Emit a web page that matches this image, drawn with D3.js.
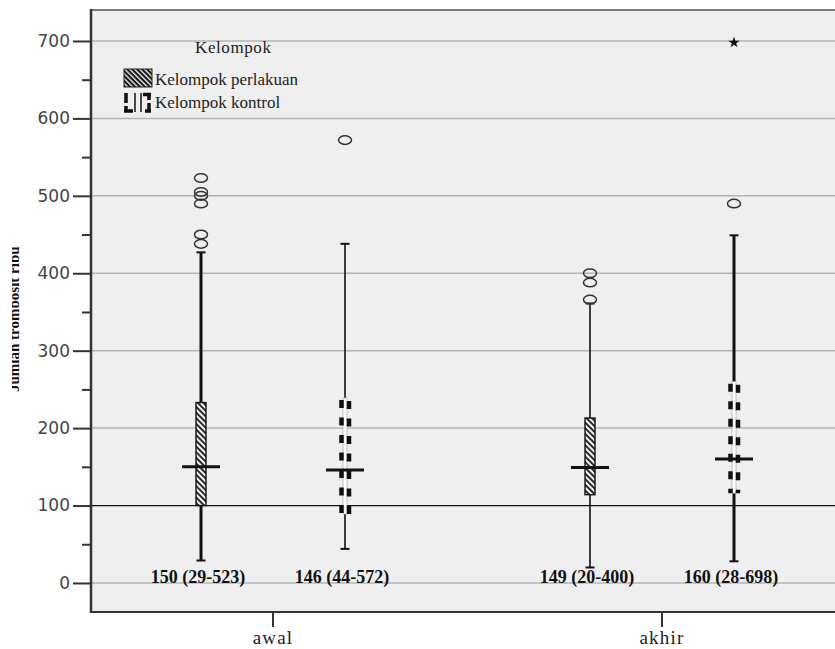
<!DOCTYPE html>
<html>
<head>
<meta charset="utf-8">
<script src="https://cdn.jsdelivr.net/npm/d3@7"></script>
<style>
  body { margin: 0; background: #fff; }
  svg { display: block; }
</style>
</head>
<body>
<div id="chart"></div>
<script>
// data
const categories = ["awal", "akhir"];
const groups = ["Kelompok perlakuan", "Kelompok kontrol"];
const yTicks = [0, 100, 200, 300, 400, 500, 600, 700];
const yMinorTicks = [50, 150, 250, 350, 450, 550, 650];

const boxCategory = ["awal", "awal", "akhir", "akhir"];
const boxGroup = ["Kelompok perlakuan", "Kelompok kontrol", "Kelompok perlakuan", "Kelompok kontrol"];
const whiskerLow = [29, 44, 20, 28];
const q1 = [100, 89, 114, 116];
const median = [150, 146, 149, 160];
const q3 = [233, 239, 213, 260];
const whiskerHigh = [427, 438, 361, 449];
const outliers = [[523, 505, 500, 490, 450, 438], [572], [400, 388, 366], [490]];
const extremes = [[], [], [], [698]];
const summaryLabels = ["150 (29-523)", "146 (44-572)", "149 (20-400)", "160 (28-698)"];
const referenceValue = 100;

const W = 835, H = 649;
const plotL = 91, plotT = 10, plotB = 612, plotR = 845;

const svg = d3.select("#chart").append("svg")
    .attr("width", W)
    .attr("height", H);

const defs = svg.append("defs");
const hatch = defs.append("pattern")
    .attr("id", "hatch")
    .attr("patternUnits", "userSpaceOnUse")
    .attr("width", 4)
    .attr("height", 4)
    .attr("patternTransform", "rotate(45)");
hatch.append("rect").attr("width", 4).attr("height", 4).attr("fill", "#f4f4f4");
hatch.append("rect").attr("width", 4).attr("height", 2).attr("fill", "#2a2a2a");

const hatchDark = defs.append("pattern")
    .attr("id", "hatchDark")
    .attr("patternUnits", "userSpaceOnUse")
    .attr("width", 3.5)
    .attr("height", 3.5)
    .attr("patternTransform", "rotate(45)");
hatchDark.append("rect").attr("width", 3.5).attr("height", 3.5).attr("fill", "#dcdcdc");
hatchDark.append("rect").attr("width", 3.5).attr("height", 2).attr("fill", "#111");

defs.append("clipPath").attr("id", "ylabClip")
    .append("rect").attr("x", 12).attr("y", 0).attr("width", 40).attr("height", H);

const y = d3.scaleLinear().domain([-37.5, 740]).range([plotB, plotT]);
const x = d3.scaleBand().domain(categories).range([78.5, 856.5]);
const xSub = d3.scalePoint().domain(groups).range([-72, 72]);
const cx = i => x(boxCategory[i]) + x.bandwidth() / 2 + xSub(boxGroup[i]);

// plot background
svg.append("rect")
    .attr("x", plotL).attr("y", plotT)
    .attr("width", plotR - plotL).attr("height", plotB - plotT)
    .attr("fill", "#efefef");

// gridlines
svg.append("g").selectAll("line")
    .data(yTicks.filter(d => d !== referenceValue))
    .join("line")
    .attr("x1", plotL).attr("x2", plotR)
    .attr("y1", d => y(d)).attr("y2", d => y(d))
    .attr("stroke", "#b4b4b4")
    .attr("stroke-width", 1.5);

// reference line
svg.append("line")
    .attr("x1", plotL).attr("x2", plotR)
    .attr("y1", y(referenceValue)).attr("y2", y(referenceValue))
    .attr("stroke", "#111")
    .attr("stroke-width", 1.2);

// frame
svg.append("line").attr("x1", plotL).attr("x2", plotR).attr("y1", plotT).attr("y2", plotT)
    .attr("stroke", "#7a7a7a").attr("stroke-width", 2);
svg.append("line").attr("x1", plotL).attr("x2", plotR).attr("y1", plotB).attr("y2", plotB)
    .attr("stroke", "#333").attr("stroke-width", 2);

// y axis
const yAxis = d3.axisLeft(y).tickValues(yTicks).tickSize(18).tickPadding(3).tickSizeOuter(0);
const gy = svg.append("g").attr("transform", `translate(${plotL},0)`).call(yAxis);
gy.select(".domain").remove();
gy.selectAll(".tick line").attr("stroke", "#333").attr("stroke-width", 2);
gy.selectAll(".tick text")
    .attr("font-family", "DejaVu Sans, sans-serif")
    .attr("font-size", 17)
    .attr("fill", "#444");
const yMinor = d3.axisLeft(y).tickValues(yMinorTicks).tickSize(9).tickFormat("");
const gym = svg.append("g").attr("transform", `translate(${plotL},0)`).call(yMinor);
gym.select(".domain").remove();
gym.selectAll(".tick line").attr("stroke", "#333").attr("stroke-width", 2);
svg.append("line").attr("x1", plotL).attr("x2", plotL).attr("y1", plotT - 1).attr("y2", plotB + 1)
    .attr("stroke", "#333").attr("stroke-width", 2.5);

// x axis
const xAxis = d3.axisBottom(x).tickSize(15).tickPadding(4);
const gx = svg.append("g").attr("transform", `translate(0,${plotB})`).call(xAxis);
gx.select(".domain").remove();
gx.selectAll(".tick line").attr("stroke", "#333").attr("stroke-width", 2);
gx.selectAll(".tick text")
    .attr("font-family", "Liberation Serif, serif")
    .attr("font-size", 19)
    .attr("letter-spacing", 1.2)
    .attr("fill", "#222");

// y axis title (clipped at the left edge as in the source)
svg.append("g")
    .attr("clip-path", "url(#ylabClip)")
    .append("text")
    .attr("transform", "translate(19,392) rotate(-90)")
    .attr("font-family", "Liberation Serif, serif")
    .attr("font-weight", "bold")
    .attr("font-size", 15)
    .attr("fill", "#111")
    .text("Jumlah trombosit ribu");

// boxes
const idx = d3.range(boxCategory.length);
const thickWhisker = { "awal|Kelompok perlakuan": 3, "akhir|Kelompok kontrol": 3 };
const boxes = svg.append("g");

idx.forEach(i => {
    const c = cx(i);
    const sw = thickWhisker[boxCategory[i] + "|" + boxGroup[i]] || 1.6;
    const g = boxes.append("g");
    // whiskers
    g.append("line").attr("x1", c).attr("x2", c).attr("y1", y(q3[i])).attr("y2", y(whiskerHigh[i]))
        .attr("stroke", "#111").attr("stroke-width", sw);
    g.append("line").attr("x1", c).attr("x2", c).attr("y1", y(q1[i])).attr("y2", y(whiskerLow[i]))
        .attr("stroke", "#111").attr("stroke-width", sw);
    [whiskerHigh[i], whiskerLow[i]].forEach(v => {
        g.append("line").attr("x1", c - 4.5).attr("x2", c + 4.5).attr("y1", y(v)).attr("y2", y(v))
            .attr("stroke", "#111").attr("stroke-width", 2);
    });
    if (boxGroup[i] === groups[0]) {
        g.append("rect")
            .attr("x", c - 5).attr("y", y(q3[i]))
            .attr("width", 10).attr("height", y(q1[i]) - y(q3[i]))
            .attr("fill", "url(#hatch)")
            .attr("stroke", "#111").attr("stroke-width", 1.4);
    } else {
        g.append("rect")
            .attr("x", c - 2).attr("y", y(q3[i]))
            .attr("width", 4).attr("height", y(q1[i]) - y(q3[i]))
            .attr("fill", "#fff")
            .attr("stroke", "#999").attr("stroke-width", 0.6);
        g.append("line").attr("x1", c - 3.5).attr("x2", c - 3.5)
            .attr("y1", y(q3[i]) + 2).attr("y2", y(q1[i]))
            .attr("stroke", "#111").attr("stroke-width", 4.5).attr("stroke-dasharray", "8,9.5");
        g.append("line").attr("x1", c + 4).attr("x2", c + 4)
            .attr("y1", y(q3[i])).attr("y2", y(q1[i]))
            .attr("stroke", "#111").attr("stroke-width", 4.5).attr("stroke-dasharray", "8,9.5")
            .attr("stroke-dashoffset", -3);
    }
    // median
    g.append("line").attr("x1", c - 19).attr("x2", c + 19).attr("y1", y(median[i])).attr("y2", y(median[i]))
        .attr("stroke", "#111").attr("stroke-width", 3);
    // outliers
    g.selectAll("ellipse").data(outliers[i]).join("ellipse")
        .attr("cx", c).attr("cy", d => y(d))
        .attr("rx", 6.5).attr("ry", 4.3)
        .attr("fill", "none").attr("stroke", "#333").attr("stroke-width", 1.5);
    g.selectAll("path.star").data(extremes[i]).join("path")
        .attr("class", "star")
        .attr("transform", d => `translate(${c},${y(d)})`)
        .attr("d", d3.symbol(d3.symbolStar, 40)())
        .attr("fill", "#111");
    // summary label
    g.append("text")
        .attr("x", c - 3).attr("y", 583)
        .attr("text-anchor", "middle")
        .attr("font-family", "Liberation Serif, serif")
        .attr("font-weight", "bold")
        .attr("font-size", 18)
        .attr("fill", "#111")
        .text(summaryLabels[i]);
});

// legend
const lg = svg.append("g").attr("font-family", "Liberation Serif, serif").attr("font-size", 17).attr("fill", "#222");
lg.append("text").attr("x", 195).attr("y", 53).attr("letter-spacing", 0.6).text("Kelompok");
lg.append("rect").attr("x", 124).attr("y", 69).attr("width", 28).attr("height", 18)
    .attr("fill", "url(#hatchDark)").attr("stroke", "#222").attr("stroke-width", 1);
lg.append("text").attr("x", 155).attr("y", 85).text(groups[0]);
const k = lg.append("g").attr("stroke", "#111").attr("fill", "none").attr("stroke-linecap", "butt");
k.append("path").attr("d", "M126,93 V103 M126,106 V112 M124,111 H133").attr("stroke-width", 3.5);
k.append("path").attr("d", "M135,93 V112 M141,93 V112").attr("stroke-width", 1.5);
k.append("path").attr("d", "M143,94.5 H151 M149,93 V100 M149,103 V112 M145,111 H151").attr("stroke-width", 3.5);
lg.append("text").attr("x", 155).attr("y", 108).text(groups[1]);
</script>
</body>
</html>
